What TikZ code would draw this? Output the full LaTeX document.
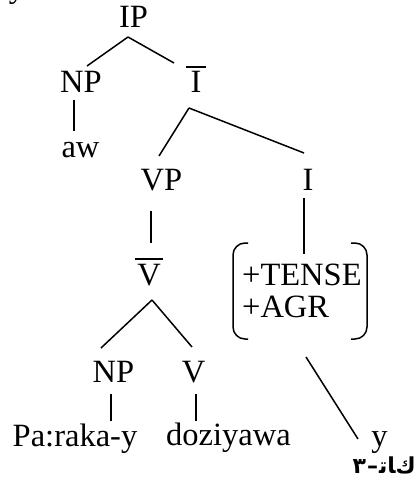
\documentclass[tikz,border=0pt]{standalone}
\usepackage{fontspec}
\setmainfont{Liberation Serif}
\newfontfamily\arabicfont[Script=Arabic]{DejaVu Sans}
\usetikzlibrary{calc}
\newcommand\barred[2]{\vbox{\hrule height 1.4pt\kern4.2pt\hbox{\kern#2\relax#1\kern#2\relax}}}
\tikzset{
  lbl/.style={inner sep=0pt, anchor=base, font=\fontsize{32.5}{38}\selectfont},
  ar/.style={inner sep=0pt, anchor=base east, font=\arabicfont\bfseries\fontsize{22}{26}\selectfont},
  edge/.style={line width=1.5pt},
  brk/.style={line width=1.5pt, rounded corners=12pt}
}
\begin{document}
\begin{tikzpicture}[x=1pt,y=-1pt]
\useasboundingbox (0,0) rectangle (417,484);
\begin{scope}
\clip (0,0) rectangle (417,484);
\node[lbl] (ytop) at (17,-2.5) {y};
\end{scope}
% nodes
\node[lbl] (IP)   at (133.5,28) {IP};
\node[lbl] (NPa)  at (81,93)   {NP};
\node[lbl] (aw)   at (80.5,157) {aw};
\node[lbl] (Ibar) at (196,93)  {\barred{I}{4.5pt}};
\node[lbl] (VP)   at (161.5,190) {VP};
\node[lbl] (I)    at (308,190) {I};
\node[lbl] (Vbar) at (149,285) {\barred{V}{2.5pt}};
\node[lbl,anchor=base west] (tense) at (242,285) {+TENSE};
\node[lbl,anchor=base west] (agr)   at (242,317) {+AGR};
\node[lbl] (NPb)  at (113.5,382) {NP};
\node[lbl] (V)    at (193.5,382) {V};
\node[lbl] (para) at (75,446)  {Pa:raka-y};
\node[lbl] (dozi) at (228.5,445) {doziyawa};
\node[lbl] (y)    at (379.5,446) {y};
% Arabic caption, each glyph boxed so that they stand left to right as printed
\node[ar] (cap) at (416,473)
  {\mbox{٣}\kern1pt\mbox{–}\kern1pt\mbox{ت^^^^200d}\mbox{^^^^200dا}\mbox{ك}};
% brackets
\draw[brk] (248,243) -- (233,243) -- (233,339) -- (248,339);
\draw[brk] (351,243) -- (367,243) -- (367,339) -- (351,339);
% edges
\draw[edge] ($(IP.base)+(-5.5,9)$) -- ($(NPa.base)+(6,-27)$);
\draw[edge] ($(IP.base)+(-5.5,9)$) -- ($(Ibar.base)+(-22,-30)$);
\draw[edge] ($(NPa.base)+(-7,7)$) -- ($(aw.base)+(-6.5,-26)$);
\draw[edge] ($(Ibar.base)+(-7,15)$) -- ($(VP.base)+(-2.5,-34)$);
\draw[edge] ($(Ibar.base)+(-7,15)$) -- ($(I.base)+(-4,-37)$);
\draw[edge] ($(VP.base)+(-10.5,21)$) -- ($(Vbar.base)+(2,-42)$);
\draw[edge] ($(I.base)+(-4,8)$) -- ($(tense.base west)+(62,-31)$);
\draw[edge] ($(agr.base west)+(64,40)$) -- ($(y.base)+(-21.5,-7)$);
\draw[edge] ($(Vbar.base)+(3,15)$) -- ($(NPb.base)+(-12.5,-34)$);
\draw[edge] ($(Vbar.base)+(3,15)$) -- ($(V.base)+(-1.5,-35)$);
\draw[edge] ($(NPb.base)+(-2.5,12)$) -- ($(NPb.base)+(-2.5,39)$);
\draw[edge] ($(V.base)+(2.5,12)$) -- ($(V.base)+(2.5,39)$);
\end{tikzpicture}
\end{document}
